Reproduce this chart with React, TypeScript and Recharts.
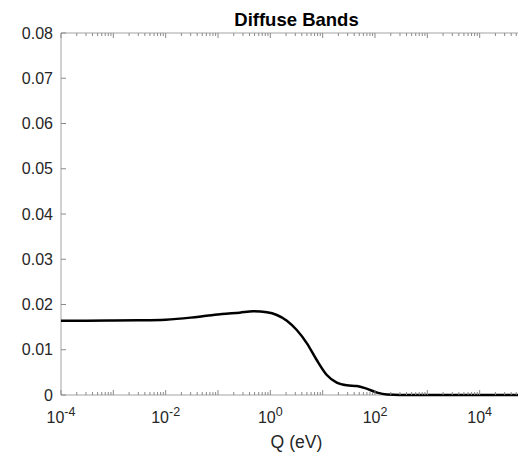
import React from "react";
import { LineChart, Line, XAxis, YAxis } from "recharts";

// Q in eV (log axis) and the band intensity
const qValues = [
  1e-4, 3e-4, 1e-3, 3e-3, 1e-2, 3e-2, 0.06, 0.12, 0.26, 0.47, 0.86, 1.33,
  2.07, 3.2, 5.0, 7.7, 12, 18.6, 29, 45, 69, 110, 170, 300, 1000, 1e4, 1e5,
];
const bandValues = [
  0.0164, 0.01642, 0.01645, 0.0165, 0.01665, 0.0171, 0.0175, 0.0179, 0.0182,
  0.0185, 0.01827, 0.01768, 0.01643, 0.01436, 0.01142, 0.00773, 0.00442,
  0.00272, 0.00214, 0.00199, 0.0014, 0.00052, 0.0001, 0, 0, 0, 0,
];

const xDecades = [1e-4, 1e-3, 1e-2, 1e-1, 1, 10, 100, 1e3, 1e4, 1e5];
const yTicks = [0, 0.01, 0.02, 0.03, 0.04, 0.05, 0.06, 0.07, 0.08];

const data = qValues.map((q, i) => ({ q, v: bandValues[i] }));

// decades plus the 2..9 minor marks in between
const xTicks: number[] = [];
xDecades.forEach((d, i) => {
  xTicks.push(d);
  if (i < xDecades.length - 1) {
    for (let m = 2; m <= 9; m++) xTicks.push(+(d * m).toPrecision(3));
  }
});

const FONT = "'Liberation Sans', Arial, sans-serif";
const TEXT = "#262626";
const AXIS = "#a3a3a3";

function decadeInfo(v: number) {
  const lg = Math.log10(v);
  const exp = Math.round(lg);
  return { exp, major: Math.abs(lg - exp) < 1e-6 };
}

const BottomTick = (props: any) => {
  const { x, y, payload } = props;
  const { exp, major } = decadeInfo(payload.value);
  return (
    <g>
      <line x1={x} x2={x} y1={y} y2={y - (major ? 5 : 3)} stroke="#8a8a8a" />
      {major && exp % 2 === 0 && (
        <text x={x} y={y + 28} textAnchor="middle" fill={TEXT} fontSize={16} fontFamily={FONT}>
          <tspan>10</tspan>
          <tspan dy={-7} fontSize={12.5}>
            {String(exp)}
          </tspan>
        </text>
      )}
    </g>
  );
};

const TopTick = (props: any) => {
  const { x, y, payload } = props;
  const { major } = decadeInfo(payload.value);
  return <line x1={x} x2={x} y1={y} y2={y + (major ? 5 : 3)} stroke="#8a8a8a" />;
};

const LeftTick = (props: any) => {
  const { x, y, payload } = props;
  const v = payload.value as number;
  return (
    <g>
      <line x1={x} x2={x + 5} y1={y} y2={y} stroke="#8a8a8a" />
      <text x={x - 8} y={y + 5.5} textAnchor="end" fill={TEXT} fontSize={16} fontFamily={FONT}>
        {v === 0 ? "0" : v.toFixed(2)}
      </text>
    </g>
  );
};

export default function App() {
  return (
    <div
      style={{
        position: "absolute",
        left: 0,
        top: 0,
        width: 518,
        height: 453,
        overflow: "hidden",
        background: "#fff",
      }}
    >
      <LineChart width={532} height={453} data={data} margin={{ top: 31, right: 0, bottom: 0, left: 0 }}>
        <XAxis
          dataKey="q"
          type="number"
          scale="log"
          domain={[1e-4, 1e5]}
          ticks={xTicks}
          interval={0}
          height={58}
          tickSize={0}
          tickMargin={0}
          tick={<BottomTick />}
          axisLine={{ stroke: AXIS }}
        />
        <XAxis
          xAxisId="top"
          orientation="top"
          dataKey="q"
          type="number"
          scale="log"
          domain={[1e-4, 1e5]}
          ticks={xTicks}
          interval={0}
          height={2}
          tickSize={0}
          tickMargin={0}
          tick={<TopTick />}
          axisLine={{ stroke: AXIS }}
        />
        <YAxis
          type="number"
          domain={[0, 0.08]}
          ticks={yTicks}
          interval={0}
          width={61}
          tickSize={0}
          tickMargin={0}
          tick={<LeftTick />}
          axisLine={{ stroke: AXIS }}
        />
        <Line
          dataKey="v"
          type="monotone"
          stroke="#000"
          strokeWidth={2.5}
          dot={false}
          zIndex={1000}
          isAnimationActive={false}
        />
      </LineChart>
      <svg
        width={518}
        height={453}
        style={{ position: "absolute", left: 0, top: 0, pointerEvents: "none" }}
      >
        <text x={296.5} y={26} textAnchor="middle" fontWeight="bold" fontSize={18.5} fill="#000" fontFamily={FONT}>
          Diffuse Bands
        </text>
        <text x={296.5} y={448} textAnchor="middle" fontSize={17.6} fill={TEXT} fontFamily={FONT}>
          Q (eV)
        </text>
      </svg>
    </div>
  );
}
